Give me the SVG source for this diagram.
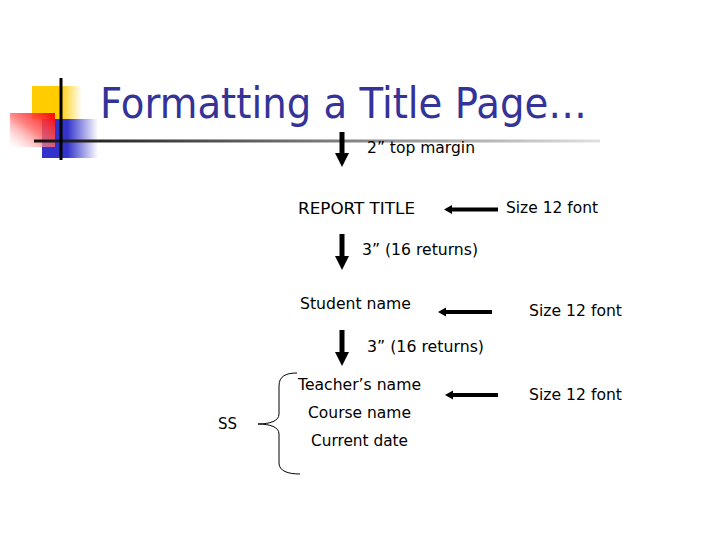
<svg xmlns="http://www.w3.org/2000/svg" width="720" height="540" viewBox="0 0 720 540">
<defs>
<style>
.t{font-family:"DejaVu Sans","Liberation Sans",sans-serif;font-size:16.5px;fill:#000}
.title{font-family:"DejaVu Sans","Liberation Sans",sans-serif;font-size:42px;fill:#333399}
.shaft{stroke:#000;stroke-width:5;fill:none}
.lshaft{stroke:#000;stroke-width:4;fill:none}
</style>
<linearGradient id="gy" x1="0" y1="0" x2="1" y2="0">
<stop offset="0" stop-color="#FFCC00"/><stop offset="0.55" stop-color="#FFCC00"/><stop offset="1" stop-color="#FFCC00" stop-opacity="0"/>
</linearGradient>
<linearGradient id="gb" x1="0" y1="0" x2="1" y2="0">
<stop offset="0" stop-color="#3333CC"/><stop offset="0.45" stop-color="#3333CC"/><stop offset="1" stop-color="#3333CC" stop-opacity="0"/>
</linearGradient>
<linearGradient id="gr" x1="1" y1="0" x2="0" y2="1">
<stop offset="0" stop-color="#FF0000"/><stop offset="0.5" stop-color="#FF6666" stop-opacity="0.8"/><stop offset="1" stop-color="#FFFFFF" stop-opacity="0.3"/>
</linearGradient>
<linearGradient id="gl" gradientUnits="userSpaceOnUse" x1="34" y1="0" x2="600" y2="0">
<stop offset="0" stop-color="#111"/><stop offset="0.5" stop-color="#777"/><stop offset="1" stop-color="#e0e0e0"/>
</linearGradient>
</defs>
<rect width="720" height="540" fill="#fff"/>

<g id="logo">
<rect x="32" y="86" width="50" height="33" fill="url(#gy)"/>
<rect x="42" y="119" width="56" height="39" fill="url(#gb)"/>
<rect x="10" y="113" width="45" height="34" fill="url(#gr)"/>
<rect x="34" y="139.5" width="566" height="3" fill="url(#gl)"/>
<line x1="61" y1="78" x2="61" y2="160" stroke="#000" stroke-width="3"/>
</g>

<g id="title">
<text class="title" x="100" y="118" textLength="487" lengthAdjust="spacingAndGlyphs">Formatting a Title Page…</text>
</g>

<g id="connectors">
<path d="M342,132 V153" class="shaft"/><path d="M335,153 H349 L342,167 Z" fill="#000"/>
<path d="M342,234 V256" class="shaft"/><path d="M335,256 H349 L342,270 Z" fill="#000"/>
<path d="M342,330 V352" class="shaft"/><path d="M335,352 H349 L342,366 Z" fill="#000"/>
<path d="M498,209.5 H450" class="lshaft"/><path d="M444,209.5 L452,205 L452,214 Z" fill="#000"/>
<path d="M492,312 H444" class="lshaft"/><path d="M438,312 L446,307.5 L446,316.5 Z" fill="#000"/>
<path d="M498,395 H451" class="lshaft"/><path d="M445,395 L453,390.5 L453,399.5 Z" fill="#000"/>
<path d="M297,373 C286,373 279,376 279,386 V414 C279,421 270,424 258,424 C270,424 279,427 279,434 V463 C279,471 288,474 300,474" fill="none" stroke="#000" stroke-width="1"/>
</g>

<g id="top-margin"><text class="t" x="367" y="153" textLength="108" lengthAdjust="spacingAndGlyphs">2” top margin</text></g>
<g id="report-title"><text class="t" x="298" y="214" textLength="117" lengthAdjust="spacingAndGlyphs">REPORT TITLE</text></g>
<g id="size1"><text class="t" x="506" y="213" textLength="92" lengthAdjust="spacingAndGlyphs">Size 12 font</text></g>
<g id="returns1"><text class="t" x="362" y="255" textLength="116" lengthAdjust="spacingAndGlyphs">3” (16 returns)</text></g>
<g id="student"><text class="t" x="300" y="309" textLength="111" lengthAdjust="spacingAndGlyphs">Student name</text></g>
<g id="size2"><text class="t" x="529" y="316" textLength="93" lengthAdjust="spacingAndGlyphs">Size 12 font</text></g>
<g id="returns2"><text class="t" x="367" y="352" textLength="117" lengthAdjust="spacingAndGlyphs">3” (16 returns)</text></g>
<g id="teacher"><text class="t" x="298" y="390" textLength="123" lengthAdjust="spacingAndGlyphs">Teacher’s name</text></g>
<g id="course"><text class="t" x="308" y="418" textLength="103" lengthAdjust="spacingAndGlyphs">Course name</text></g>
<g id="date"><text class="t" x="311" y="446" textLength="97" lengthAdjust="spacingAndGlyphs">Current date</text></g>
<g id="size3"><text class="t" x="529" y="400" textLength="93" lengthAdjust="spacingAndGlyphs">Size 12 font</text></g>
<g id="ss"><text class="t" x="218" y="429" textLength="19" lengthAdjust="spacingAndGlyphs">SS</text></g>
</svg>
